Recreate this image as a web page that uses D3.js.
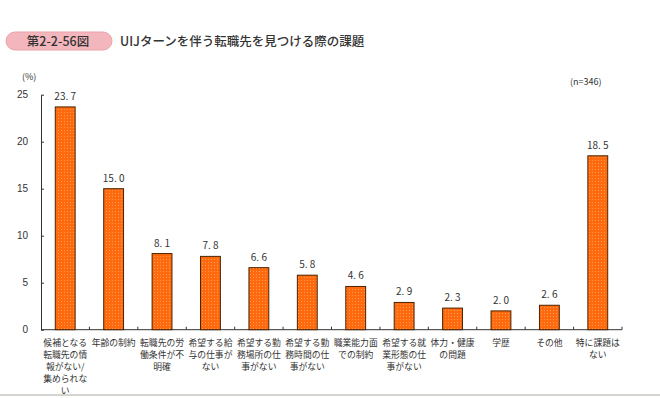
<!DOCTYPE html>
<html lang="ja">
<head>
<meta charset="UTF-8">
<title>第2-2-56図</title>
<style>
  body { margin: 0; background: #fff; }
  svg { display: block; font-family: "Noto Sans CJK JP", "Noto Sans", sans-serif; }
  .axis text { font-size: 10px; fill: #333; }
  .axis path, .axis line { stroke: #333; }
  .val { font-size: 10px; fill: #333; text-anchor: middle; }
  .cat { font-size: 8.8px; fill: #333; text-anchor: middle; }
</style>
</head>
<body>
<script src="https://d3js.org/d3.v7.min.js"></script>
<script>
// data
const categories = [
  ["候補となる", "転職先の情", "報がない/", "集められな", "い"],
  ["年齢の制約"],
  ["転職先の労", "働条件が不", "明確"],
  ["希望する給", "与の仕事が", "ない"],
  ["希望する勤", "務場所の仕", "事がない"],
  ["希望する勤", "務時間の仕", "事がない"],
  ["職業能力面", "での制約"],
  ["希望する就", "業形態の仕", "事がない"],
  ["体力・健康", "の問題"],
  ["学歴"],
  ["その他"],
  ["特に課題は", "ない"]
];
const values = [23.7, 15.0, 8.1, 7.8, 6.6, 5.8, 4.6, 2.9, 2.3, 2.0, 2.6, 18.5];
const yTicks = [0, 5, 10, 15, 20, 25];

const width = 660, height = 398;
const svg = d3.select("body").append("svg")
  .attr("width", width)
  .attr("height", height);

// dotted orange fill
const defs = svg.append("defs");
const pat = defs.append("pattern")
  .attr("id", "dots")
  .attr("patternUnits", "userSpaceOnUse")
  .attr("width", 3).attr("height", 3);
pat.append("rect").attr("width", 3).attr("height", 3).attr("fill", "#ff6a0e");
pat.append("rect").attr("x", 1).attr("y", 1).attr("width", 1).attr("height", 1).attr("fill", "#ff9a55");

// header
svg.append("rect")
  .attr("x", 6).attr("y", 32).attr("width", 106).attr("height", 18)
  .attr("rx", 9)
  .attr("fill", "#f2b6bc").attr("stroke", "#e9a3aa");
svg.append("text")
  .attr("x", 58).attr("y", 45.5)
  .attr("text-anchor", "middle")
  .style("font-size", "12.5px").style("font-weight", "500").style("fill", "#333")
  .text("第2-2-56図");
svg.append("text")
  .attr("x", 120).attr("y", 46)
  .style("font-size", "12.5px").style("font-weight", "500").style("fill", "#333")
  .text("UIJターンを伴う転職先を見つける際の課題");

const x = d3.scaleBand()
  .domain(d3.range(values.length))
  .range([41, 622])
  .paddingInner(0.59)
  .paddingOuter(0.295);

const y = d3.scaleLinear()
  .domain([0, 25])
  .range([329.7, 94.7]);

// y axis
svg.append("g")
  .attr("class", "axis")
  .attr("transform", "translate(41,0)")
  .call(d3.axisRight(y).tickValues(yTicks).tickSize(3).tickSizeOuter(0))
  .call(g => g.selectAll("text").attr("x", -13).attr("text-anchor", "end"));

// x axis with ticks between categories
const xAxis = svg.append("g").attr("class", "axis");
xAxis.append("line")
  .attr("x1", 41).attr("x2", 622)
  .attr("y1", y(0)).attr("y2", y(0));
const step = x.step();
xAxis.selectAll(".xt")
  .data(d3.range(1, values.length + 1))
  .join("line")
  .attr("class", "xt")
  .attr("x1", i => 41 + i * step).attr("x2", i => 41 + i * step)
  .attr("y1", y(0)).attr("y2", y(0) - 3);

// bars
svg.selectAll(".bar")
  .data(values)
  .join("rect")
  .attr("class", "bar")
  .attr("x", (d, i) => x(i))
  .attr("y", d => y(d))
  .attr("width", x.bandwidth())
  .attr("height", d => y(0) - y(d))
  .attr("fill", "url(#dots)")
  .attr("stroke", "#4a2200")
  .attr("stroke-width", 1);

// value labels
svg.selectAll(".val")
  .data(values)
  .join("text")
  .attr("class", "val")
  .attr("x", (d, i) => x(i) + x.bandwidth() / 2)
  .attr("y", d => y(d) - 7)
  .text(d => d.toFixed(1).replace(".", ". "));

// category labels
const cats = svg.selectAll(".cat")
  .data(categories)
  .join("text")
  .attr("class", "cat")
  .attr("x", (d, i) => x(i) + x.bandwidth() / 2)
  .attr("y", 346);
cats.selectAll("tspan")
  .data(d => d)
  .join("tspan")
  .attr("x", function () { return this.parentNode.getAttribute("x"); })
  .attr("dy", (d, i) => i === 0 ? 0 : 12)
  .text(d => d);

// notes
svg.append("text").attr("x", 22).attr("y", 80)
  .style("font-size", "9px").style("fill", "#333").text("(%)");
svg.append("text").attr("x", 570).attr("y", 85)
  .style("font-size", "9px").style("fill", "#333").text("(n=346)");

// bottom rule
svg.append("rect")
  .attr("x", 0).attr("y", 394).attr("width", width).attr("height", 2)
  .attr("fill", "#d4d4d0");
</script>
</body>
</html>
